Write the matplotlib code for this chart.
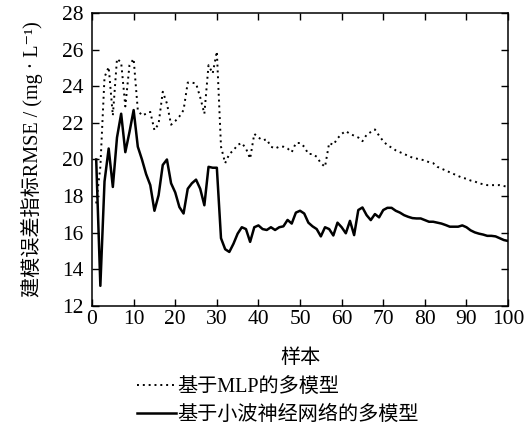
import numpy as np
import matplotlib
matplotlib.use('Agg')
import matplotlib.pyplot as plt

plt.rcParams.update({
    'font.family': ['Liberation Serif', 'Noto Sans CJK SC', 'DejaVu Serif'],
    'font.size': 14,
    'xtick.direction': 'in', 'ytick.direction': 'in',
    'xtick.top': True, 'ytick.right': True,
    'axes.linewidth': 1.1,
})

samples = np.arange(1, 101)

# 基于MLP的多模型
mlp = [17.6, 19.6, 24.5, 25.05, 22.4, 25.5, 25.3, 22.9, 25.15, 25.5,
       22.7, 22.4, 22.5, 22.6, 21.6, 21.95, 23.7, 23.06, 21.9, 22.1,
       22.35, 22.7, 24.2, 24.2, 24.15, 23.4, 22.5, 25.15, 24.7, 25.9,
       20.7, 19.8, 20.3, 20.5, 20.8, 20.9, 20.6, 20.05, 21.4, 21.2,
       21.05, 21.1, 20.7, 20.6, 20.7, 20.7, 20.6, 20.4, 20.9, 20.9,
       20.7, 20.3, 20.3, 20.15, 19.8, 19.6, 20.9, 20.8, 21.15, 21.4,
       21.55, 21.4, 21.3, 21.2, 21.0, 21.35, 21.5, 21.64, 21.3, 21.0,
       20.78, 20.65, 20.5, 20.4, 20.3, 20.2, 20.1, 20.05, 20.0, 19.95,
       19.85, 19.8, 19.6, 19.5, 19.4, 19.3, 19.2, 19.1, 19.0, 18.95,
       18.85, 18.8, 18.7, 18.65, 18.6, 18.6, 18.6, 18.6, 18.55, 18.5]

# 基于小波神经网络的多模型
wnn = [20.0, 13.1, 18.8, 20.6, 18.5, 21.2, 22.5, 20.4, 21.5, 22.7,
       20.7, 20.0, 19.2, 18.6, 17.2, 18.05, 19.7, 20.0, 18.7, 18.2,
       17.4, 17.05, 18.4, 18.7, 18.9, 18.4, 17.5, 19.6, 19.55, 19.55,
       15.7, 15.1, 14.95, 15.4, 15.95, 16.3, 16.2, 15.5, 16.3, 16.4,
       16.2, 16.15, 16.3, 16.15, 16.3, 16.35, 16.7, 16.5, 17.1, 17.2,
       17.05, 16.55, 16.35, 16.2, 15.8, 16.3, 16.2, 15.85, 16.55, 16.3,
       15.97, 16.65, 15.87, 17.24, 17.38, 16.96, 16.69, 17.02, 16.84, 17.24,
       17.36, 17.36, 17.2, 17.1, 16.96, 16.87, 16.8, 16.78, 16.78, 16.69,
       16.6, 16.6, 16.55, 16.5, 16.42, 16.33, 16.33, 16.33, 16.4, 16.3,
       16.13, 16.02, 15.95, 15.9, 15.83, 15.83, 15.8, 15.7, 15.6, 15.55]

fig = plt.figure(figsize=(5.32, 4.34), dpi=100)
ax = fig.add_axes([0.173, 0.295, 0.782, 0.675])

ax.plot(samples, mlp, color='black', lw=1.4, ls=(0, (1, 2)),
        label='基于MLP的多模型')
ax.plot(samples, wnn, color='black', lw=1.8, label='基于小波神经网络的多模型')

ax.set_xlim(0, 100)
ax.set_ylim(12, 28)
ax.set_xticks(np.arange(0, 101, 10))
ax.set_yticks(np.arange(12, 29, 2))
ax.tick_params(length=5, width=1.0, labelsize=15.5)
ax.tick_params(axis='y', pad=6)
ax.tick_params(axis='x', pad=3)

ax.set_xlabel('样本', fontsize=14.5, labelpad=14)
ax.set_ylabel('建模误差指标RMSE / (mg · L⁻¹)', fontsize=14.5, labelpad=14)

fig.legend(loc='upper left', bbox_to_anchor=(0.258, 0.130), frameon=False,
           fontsize=14.5, handlelength=1.9, handletextpad=0.1,
           labelspacing=0.45, borderpad=0, borderaxespad=0)

fig.savefig('out.png', dpi=100)
